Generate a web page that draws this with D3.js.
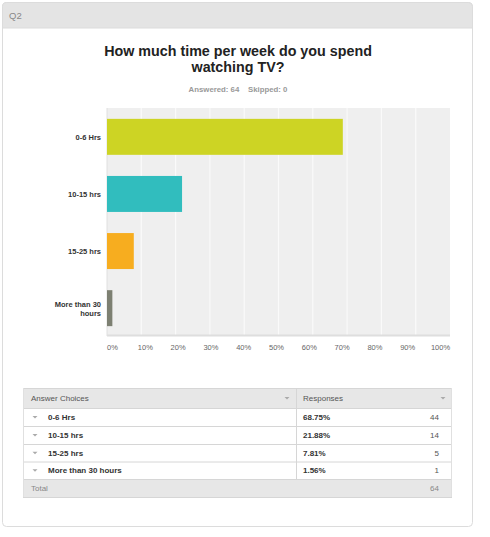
<!DOCTYPE html>
<html><head><meta charset="utf-8">
<script src="https://cdn.jsdelivr.net/npm/d3@7"></script>
<style>
body{margin:0;background:#fff;font-family:"Liberation Sans",Arial,sans-serif;}
</style></head>
<body><svg id="c" width="490" height="537"></svg>
<script>
const categories = ["0-6 Hrs","10-15 hrs","15-25 hrs","More than 30 hours"];
const axisLabels = [["0-6 Hrs"],["10-15 hrs"],["15-25 hrs"],["More than 30","hours"]];
const percents = [68.75, 21.88, 7.81, 1.56];
const counts = [44, 14, 5, 1];
const total = 64;
const answered = 64, skipped = 0;
const xTicks = [0,10,20,30,40,50,60,70,80,90,100];
const colors = ["#cdd424","#31bdbe","#f7ad1f","#7d8072"];

const svg = d3.select("#c");
// card
svg.append("rect").attr("x",2.5).attr("y",2.5).attr("width",470).attr("height",524).attr("rx",4)
  .attr("fill","#fff").attr("stroke","#dcdcdc");
svg.append("path").attr("d","M2.5,28 V6.5 a4,4 0 0 1 4,-4 H468.5 a4,4 0 0 1 4,4 V28 Z").attr("fill","#e4e4e4").attr("stroke","#dcdcdc");
svg.append("text").attr("x",9).attr("y",19).attr("font-size",9.5).attr("fill","#888").text("Q2");

// title
const t = svg.append("text").attr("text-anchor","middle").attr("font-size",14.3).attr("font-weight","bold").attr("fill","#222");
t.append("tspan").attr("x",238).attr("y",56).text("How much time per week do you spend");
t.append("tspan").attr("x",238).attr("y",72).text("watching TV?");
svg.append("text").attr("x",238).attr("y",92).attr("text-anchor","middle").attr("font-size",7.8).attr("font-weight","bold").attr("fill","#999")
  .attr("xml:space","preserve").text(`Answered: ${answered}    Skipped: ${skipped}`);

// plot
const x = d3.scaleLinear().domain([0,100]).range([107,450]);
const y = d3.scaleBand().domain(categories).range([108,337]).paddingInner(0.37).paddingOuter(0.19);
svg.append("rect").attr("x",x(0)).attr("y",108).attr("width",x(100)-x(0)).attr("height",227).attr("fill","#efefef");
svg.append("g").selectAll("line").data(xTicks.slice(1,-1)).join("line")
  .attr("x1",d=>x(d)).attr("x2",d=>x(d)).attr("y1",108).attr("y2",335).attr("stroke","#fafafa").attr("stroke-width",1.2);
svg.append("line").attr("x1",x(0)).attr("x2",x(100)).attr("y1",335.5).attr("y2",335.5).attr("stroke","#dedede").attr("stroke-width",2);
svg.append("line").attr("x1",x(0)).attr("x2",x(0)).attr("y1",108).attr("y2",336).attr("stroke","#e0e0e0");

svg.append("g").selectAll("rect").data(categories).join("rect")
  .attr("x",x(0)).attr("y",d=>y(d)).attr("height",y.bandwidth())
  .attr("width",(d,i)=>x(percents[i])-x(0)).attr("fill",(d,i)=>colors[i]);

// category labels
const yl = svg.append("g").selectAll("text").data(categories).join("text")
  .attr("text-anchor","end").attr("font-size",7.5).attr("font-weight","bold").attr("fill","#333");
yl.each(function(d,i){
  const lines = axisLabels[i];
  const cy = y(d)+y.bandwidth()/2;
  const start = cy - (lines.length-1)*9/2 + 3;
  d3.select(this).selectAll("tspan").data(lines).join("tspan").attr("x",101).attr("y",(l,j)=>start+j*9).text(l=>l);
});

// x axis labels
const xl = d3.scaleLinear().domain([0,100]).range([112,440]);
const ax = svg.append("g").attr("transform","translate(0,342)")
  .call(d3.axisBottom(xl).tickValues(xTicks).tickSize(0).tickPadding(0).tickFormat(d=>d+"%"));
ax.select(".domain").remove();
ax.selectAll("text").attr("font-size",7.5).attr("fill","#666").attr("font-family","Liberation Sans, Arial, sans-serif").attr("dy","1em");

// table
const tx0 = 23, tx1 = 452, colX = 296;
const rowTops = [388,408,426,444,461.5,479];
const rowH = [20,18,18,17.5,17.5,18];
svg.append("rect").attr("x",tx0).attr("y",388).attr("width",tx1-tx0).attr("height",20).attr("fill","#e7e7e7");
svg.append("rect").attr("x",tx0).attr("y",479).attr("width",tx1-tx0).attr("height",18).attr("fill","#e7e7e7");
svg.append("g").selectAll("line").data([388,408,426,444,461.5,479,497]).join("line")
  .attr("x1",tx0).attr("x2",tx1).attr("y1",d=>d+0.5).attr("y2",d=>d+0.5).attr("stroke","#d6d6d6");
svg.append("line").attr("x1",colX+0.5).attr("x2",colX+0.5).attr("y1",388).attr("y2",479).attr("stroke","#d6d6d6");
svg.append("line").attr("x1",tx0+0.5).attr("x2",tx0+0.5).attr("y1",388).attr("y2",497).attr("stroke","#e0e0e0");
svg.append("line").attr("x1",tx1-0.5).attr("x2",tx1-0.5).attr("y1",388).attr("y2",497).attr("stroke","#e0e0e0");

function arrow(cx,cy){
  svg.append("path").attr("d",`M${cx-2.5},${cy-1} L${cx+2.5},${cy-1} L${cx},${cy+1.5} Z`).attr("fill","#aaa");
}
svg.append("text").attr("x",31).attr("y",401).attr("font-size",8).attr("fill","#555").text("Answer Choices");
svg.append("text").attr("x",303).attr("y",401).attr("font-size",8).attr("fill","#555").text("Responses");
arrow(287,398); arrow(443,398);

const rows = svg.append("g").selectAll("g").data(categories).join("g");
rows.each(function(d,i){
  const g = d3.select(this);
  const cy = rowTops[i+1] + rowH[i+1]/2;
  arrow(35, cy);
  g.append("text").attr("x",48).attr("y",cy+3).attr("font-size",8).attr("font-weight","bold").attr("fill","#333").text(d);
  g.append("text").attr("x",303).attr("y",cy+3).attr("font-size",8).attr("font-weight","bold").attr("fill","#333").text(percents[i].toFixed(2)+"%");
  g.append("text").attr("x",439).attr("y",cy+3).attr("text-anchor","end").attr("font-size",8).attr("fill","#555").text(counts[i]);
});
svg.append("text").attr("x",31).attr("y",491).attr("font-size",8).attr("fill","#888").text("Total");
svg.append("text").attr("x",439).attr("y",491).attr("text-anchor","end").attr("font-size",8).attr("fill","#888").text(total);
</script></body></html>
